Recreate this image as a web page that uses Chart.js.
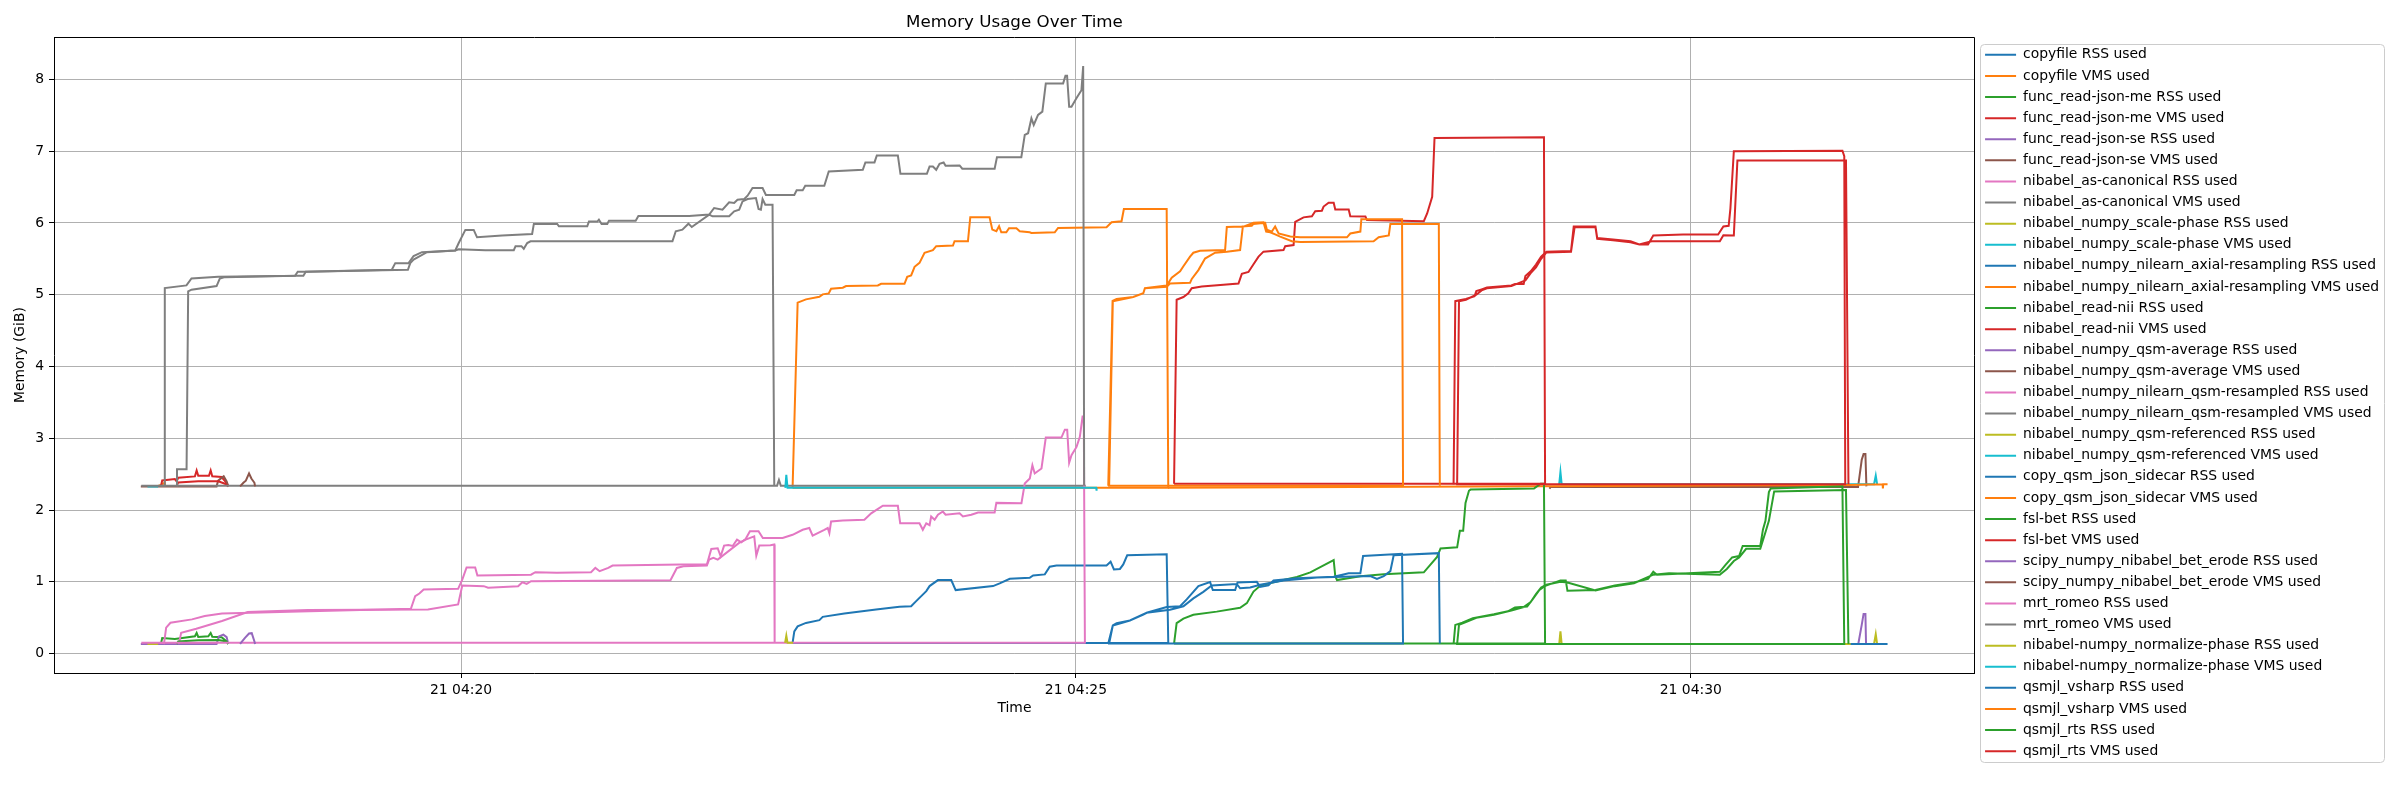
<!DOCTYPE html>
<html>
<head>
<meta charset="utf-8">
<title>Memory Usage Over Time</title>
<script src="https://cdn.jsdelivr.net/npm/chart.js@4.4.0/dist/chart.umd.min.js"></script>
<style>
  html, body { margin: 0; padding: 0; background: #fff; }
  canvas { display: block; }
</style>
</head>
<body>
<canvas id="memChart" width="2400" height="800"></canvas>
<script>
// x = minutes after 04:00 on the 21st, y = GiB

var xTickValues = [20, 25, 30];
var yTickValues = [0, 1, 2, 3, 4, 5, 6, 7, 8];

var seriesLabels = [
    "copyfile RSS used", "copyfile VMS used",
    "func_read-json-me RSS used", "func_read-json-me VMS used",
    "func_read-json-se RSS used", "func_read-json-se VMS used",
    "nibabel_as-canonical RSS used", "nibabel_as-canonical VMS used",
    "nibabel_numpy_scale-phase RSS used", "nibabel_numpy_scale-phase VMS used",
    "nibabel_numpy_nilearn_axial-resampling RSS used", "nibabel_numpy_nilearn_axial-resampling VMS used",
    "nibabel_read-nii RSS used", "nibabel_read-nii VMS used",
    "nibabel_numpy_qsm-average RSS used", "nibabel_numpy_qsm-average VMS used",
    "nibabel_numpy_nilearn_qsm-resampled RSS used", "nibabel_numpy_nilearn_qsm-resampled VMS used",
    "nibabel_numpy_qsm-referenced RSS used", "nibabel_numpy_qsm-referenced VMS used",
    "copy_qsm_json_sidecar RSS used", "copy_qsm_json_sidecar VMS used",
    "fsl-bet RSS used", "fsl-bet VMS used",
    "scipy_numpy_nibabel_bet_erode RSS used", "scipy_numpy_nibabel_bet_erode VMS used",
    "mrt_romeo RSS used", "mrt_romeo VMS used",
    "nibabel-numpy_normalize-phase RSS used", "nibabel-numpy_normalize-phase VMS used",
    "qsmjl_vsharp RSS used", "qsmjl_vsharp VMS used",
    "qsmjl_rts RSS used", "qsmjl_rts VMS used"
];

var copyfileRss = [[17.525,0.135],[17.555,0.135]];
var copyfileVms = [[17.525,2.33],[17.56,2.35],[17.59,2.38],[17.592,2.33]];

var readJsonMeRss = [[17.559,0.135],[17.570,0.218],[17.673,0.204],[17.836,0.241],[17.850,0.288],[17.863,0.232],
    [17.945,0.241],[17.964,0.288],[17.977,0.236],[18.053,0.227],[18.094,0.17],[18.107,0.135]];
var readJsonMeVms = [[17.559,2.33],[17.570,2.413],[17.673,2.432],[17.687,2.40],[17.70,2.45],[17.836,2.469],[17.850,2.552],
    [17.863,2.478],[17.950,2.478],[17.964,2.552],[17.977,2.47],[18.053,2.46],[18.094,2.376],[18.107,2.33]];

var readJsonSeRss = [[17.396,0.135],[17.442,0.135],[18.012,0.135],[18.031,0.24],[18.067,0.264],[18.094,0.23],[18.107,0.135]];
var readJsonSeVms = [[17.396,2.33],[17.442,2.33],[18.012,2.33],[18.025,2.41],[18.07,2.47],[18.094,2.40],[18.107,2.33]];

var asCanonicalRss = [[17.69,0.15],[17.707,0.15],[17.724,0.29],[17.847,0.347],[18.056,0.454],[18.265,0.579],[18.754,0.606],
    [19.731,0.616],[19.976,0.685],[20.010,0.949],[20.185,0.94],[20.220,0.917],[20.464,0.94],[20.499,0.995],[20.534,0.972],
    [20.569,1.009],[21.703,1.023],[21.755,1.194],[21.808,1.218],[21.999,1.227],[22.017,1.31],[22.052,1.333],[22.087,1.31],
    [22.261,1.542],[22.314,1.588],[22.384,1.634],[22.401,1.366],[22.425,1.505],[22.516,1.51],[22.547,1.52],[22.550,0.15]];
var asCanonicalVms = [[17.555,2.34],[17.585,2.34],[17.591,5.093],[17.767,5.13],[17.808,5.227],[18.025,5.25],[18.650,5.264],
    [18.672,5.32],[18.731,5.32],[19.437,5.347],[19.465,5.44],[19.573,5.44],[19.614,5.54],[19.682,5.593],[19.953,5.616],
    [19.981,5.634],[20.198,5.62],[20.429,5.62],[20.443,5.676],[20.491,5.676],[20.510,5.64],[20.538,5.72],[20.565,5.745],
    [21.719,5.745],[21.746,5.884],[21.800,5.907],[21.849,5.99],[21.876,5.944],[22.018,6.116],[22.045,6.093],[22.180,6.093],
    [22.221,6.162],[22.262,6.185],[22.289,6.30],[22.330,6.333],[22.398,6.347],[22.419,6.194],[22.438,6.185],[22.452,6.333],
    [22.474,6.255],[22.533,6.255],[22.547,2.34]];

var scalePhaseRss = [[17.45,0.135],[17.537,0.135]];
var scalePhaseVms = [[17.45,2.33],[17.537,2.33]];

var axialResamplingRss = [[22.696,0.149],[22.710,0.31],[22.737,0.38],[22.805,0.428],[22.914,0.466],[22.941,0.512],[23.117,0.559],
    [23.375,0.615],[23.565,0.652],[23.660,0.661],[23.701,0.731],[23.783,0.871],[23.810,0.941],[23.878,1.024],[23.986,1.024],
    [24.022,0.885],[24.326,0.941],[24.380,0.978],[24.462,1.043],[24.624,1.057],[24.652,1.09],[24.747,1.104],[24.787,1.211],
    [24.842,1.229],[25.249,1.229],[25.282,1.281],[25.309,1.173],[25.358,1.18],[25.385,1.243],[25.417,1.369],[25.738,1.383],
    [25.751,0.149],[22.696,0.149]];
var axialResamplingVms = [[22.696,2.31],[22.737,4.889],[22.805,4.935],[22.914,4.972],[22.941,5.005],[22.990,5.019],[23.009,5.083],
    [23.104,5.097],[23.131,5.12],[23.389,5.13],[23.416,5.153],[23.606,5.153],[23.628,5.25],[23.660,5.269],[23.688,5.389],
    [23.728,5.444],[23.769,5.583],[23.837,5.62],[23.864,5.676],[24.000,5.685],[24.013,5.745],[24.122,5.745],[24.141,6.079],
    [24.298,6.079],[24.320,5.907],[24.353,5.884],[24.375,5.954],[24.393,5.87],[24.434,5.87],[24.456,5.926],[24.516,5.926],
    [24.543,5.884],[24.624,5.87],[24.638,5.861],[24.828,5.87],[24.855,5.931],[25.249,5.94],[25.290,6.009],[25.371,6.023],
    [25.390,6.194],[25.738,6.194],[25.751,2.31],[22.696,2.31]];

var readNiiRss = [[17.687,0.135],[17.700,0.17],[17.863,0.186],[18.026,0.19],[18.094,0.17],[18.107,0.135]];
var readNiiVms = [[17.687,2.33],[17.700,2.385],[17.863,2.40],[18.026,2.40],[18.080,2.367],[18.107,2.33]];

var qsmAverageRss = [[31.362,0.134],[31.39,0.40],[31.405,0.553],[31.42,0.553],[31.425,0.134]];
var qsmAverageVms = [[28.85,2.30],[28.86,2.32],[31.36,2.32],[31.39,2.70],[31.405,2.78],[31.42,2.78],[31.428,2.33]];

var qsmResampledRss = [[17.40,0.15],[25.08,0.15]];
var qsmResampledVms = [[17.40,2.34],[22.57,2.34],[22.585,2.42],[22.60,2.34],[25.08,2.34]];

var qsmReferencedRss = [[28.93,0.134],[28.94,0.31],[28.95,0.134],[31.49,0.134],[31.504,0.27],[31.515,0.134]];
var qsmReferencedVms = [[28.93,2.36],[28.94,2.53],[28.95,2.36],[31.49,2.36],[31.504,2.48],[31.515,2.36]];

var sidecarRss = [[31.30,0.134],[31.60,0.134]];
var sidecarVms = [[25.75,2.31],[31.29,2.35],[31.56,2.36],[31.562,2.30],[31.565,2.36],[31.60,2.36]];

var fslBetRss = [[25.798,0.14],[25.819,0.424],[25.874,0.488],[25.955,0.542],[26.145,0.585],[26.335,0.638],[26.39,0.703],
    [26.444,0.864],[26.498,0.944],[26.58,0.982],[26.688,1.025],[26.797,1.068],[26.906,1.132],[27.014,1.229],[27.096,1.304],
    [27.109,1.078],[27.123,1.025],[27.313,1.078],[27.503,1.105],[27.829,1.132],[27.883,1.239],[27.937,1.347],[27.965,1.465],
    [28.100,1.481],[28.122,1.711],[28.149,1.711],[28.168,2.098],[28.196,2.269],[28.209,2.285],[28.725,2.30],[28.779,2.366],
    [28.806,2.366],[28.815,0.14],[25.798,0.14]];
var fslBetVms = [[25.798,2.366],[25.819,4.93],[25.874,4.968],[25.914,5.02],[25.942,5.09],[26.023,5.113],[26.200,5.14],
    [26.322,5.156],[26.349,5.29],[26.403,5.317],[26.444,5.424],[26.485,5.531],[26.525,5.60],[26.688,5.622],[26.702,5.676],
    [26.770,5.692],[26.783,6.014],[26.851,6.078],[26.919,6.094],[26.946,6.164],[27.0,6.17],[27.014,6.229],[27.055,6.282],
    [27.096,6.282],[27.109,6.186],[27.218,6.186],[27.231,6.094],[27.354,6.09],[27.367,6.04],[27.829,6.025],[27.856,6.132],
    [27.897,6.363],[27.916,7.184],[28.806,7.194],[28.815,2.366],[25.798,2.366]];

var betErodeRss = [[18.203,0.135],[18.243,0.22],[18.276,0.28],[18.298,0.285],[18.32,0.17],[18.325,0.135]];
var betErodeVms = [[18.203,2.33],[18.23,2.38],[18.25,2.41],[18.276,2.51],[18.295,2.44],[18.32,2.38],[18.325,2.33]];

var romeoRss = [[17.55,0.15],[17.585,0.144],[17.602,0.361],[17.637,0.43],[17.812,0.477],[17.916,0.523],[18.056,0.56],
    [18.684,0.588],[19.592,0.625],[19.627,0.80],[19.661,0.838],[19.696,0.894],[19.976,0.903],[20.010,1.03],[20.045,1.20],
    [20.115,1.20],[20.133,1.088],[20.569,1.10],[20.604,1.134],[20.778,1.125],[21.057,1.134],[21.092,1.194],[21.127,1.148],
    [21.197,1.194],[21.232,1.227],[21.790,1.24],[21.999,1.24],[22.035,1.458],[22.087,1.468],[22.111,1.356],[22.139,1.505],
    [22.174,1.514],[22.209,1.50],[22.244,1.588],[22.279,1.55],[22.314,1.597],[22.349,1.704],[22.419,1.704],[22.454,1.611],
    [22.479,1.61],[22.615,1.61],[22.696,1.655],[22.778,1.725],[22.832,1.75],[22.859,1.645],[22.954,1.725],[22.982,1.75],
    [22.995,1.68],[23.009,1.84],[23.104,1.855],[23.280,1.865],[23.335,1.955],[23.375,2.00],[23.430,2.06],[23.552,2.06],
    [23.571,1.815],[23.728,1.815],[23.755,1.725],[23.783,1.815],[23.810,1.79],[23.823,1.91],[23.851,1.865],[23.878,1.935],
    [23.918,1.98],[23.940,1.935],[24.054,1.955],[24.081,1.91],[24.149,1.935],[24.204,1.965],[24.339,1.965],[24.353,2.10],
    [24.557,2.095],[24.584,2.37],[24.625,2.44],[24.646,2.625],[24.665,2.51],[24.720,2.58],[24.755,3.01],[24.882,3.01],
    [24.910,3.12],[24.929,3.12],[24.945,2.66],[24.964,2.765],[25.005,2.88],[25.032,3.02],[25.054,3.305],[25.064,3.305],
    [25.073,0.15]];
var romeoVms = [[17.686,2.34],[17.69,2.57],[17.768,2.57],[17.781,5.046],[17.808,5.07],[18.012,5.12],[18.039,5.227],
    [18.080,5.245],[18.650,5.264],[18.718,5.264],[18.737,5.32],[19.568,5.347],[19.587,5.44],[19.614,5.49],[19.723,5.593],
    [19.953,5.616],[19.981,5.72],[20.035,5.903],[20.103,5.903],[20.130,5.80],[20.334,5.824],[20.578,5.847],[20.592,5.986],
    [20.782,5.986],[20.796,5.954],[21.026,5.954],[21.040,6.019],[21.108,6.019],[21.121,6.046],[21.143,5.986],[21.189,5.986],
    [21.203,6.032],[21.420,6.032],[21.442,6.097],[21.855,6.097],[22.018,6.116],[22.058,6.208],[22.126,6.185],[22.180,6.287],
    [22.221,6.278],[22.248,6.324],[22.303,6.333],[22.330,6.38],[22.370,6.486],[22.452,6.486],[22.479,6.389],[22.710,6.389],
    [22.729,6.454],[22.778,6.454],[22.799,6.519],[22.954,6.519],[22.990,6.718],[23.267,6.741],[23.288,6.843],[23.362,6.843],
    [23.381,6.94],[23.552,6.94],[23.573,6.685],[23.788,6.685],[23.810,6.787],[23.837,6.787],[23.864,6.741],[23.891,6.824],
    [23.924,6.843],[23.940,6.796],[24.054,6.801],[24.076,6.755],[24.339,6.755],[24.358,6.917],[24.556,6.917],[24.584,7.227],
    [24.611,7.25],[24.638,7.458],[24.657,7.366],[24.692,7.505],[24.727,7.551],[24.755,7.944],[24.896,7.944],[24.915,8.05],
    [24.928,8.05],[24.945,7.62],[24.964,7.62],[25.004,7.736],[25.045,7.85],[25.059,8.185],[25.067,2.34]];

var normalizePhaseRss = [[22.635,0.15],[22.645,0.25],[22.655,0.15],[22.70,0.15]];
var normalizePhaseVms = [[22.637,2.31],[22.645,2.49],[22.655,2.31],[25.165,2.31],[25.168,2.27]];

var vsharpRss = [[25.263,0.14],[25.30,0.392],[25.331,0.424],[25.439,0.461],[25.548,0.542],[25.575,0.569],[25.738,0.649],
    [25.847,0.66],[25.901,0.756],[25.996,0.94],[26.091,0.998],[26.113,0.885],[26.295,0.885],[26.314,0.99],[26.471,1.0],
    [26.498,0.93],[26.566,0.95],[26.607,1.02],[26.797,1.05],[27.096,1.07],[27.218,1.12],[27.313,1.12],[27.335,1.36],
    [27.652,1.39],[27.660,0.14],[25.27,0.14],
    [25.30,0.39],[25.439,0.461],[25.575,0.569],[25.765,0.61],[25.874,0.66],[25.955,0.77],[26.036,0.86],[26.104,0.95],
    [26.308,0.97],[26.335,0.91],[26.417,0.92],[26.498,0.96],[26.688,1.02],[26.960,1.06],[27.394,1.08],[27.448,1.04],
    [27.503,1.08],[27.557,1.15],[27.584,1.37],[27.951,1.40],[27.959,0.14]];
var vsharpVms = [[25.263,2.34],[25.298,4.914],[25.331,4.94],[25.466,4.968],[25.548,5.02],[25.561,5.09],[25.738,5.129],
    [25.779,5.236],[25.847,5.327],[25.874,5.397],[25.928,5.531],[25.955,5.585],[26.009,5.612],[26.213,5.622],[26.227,5.944],
    [26.349,5.95],[26.430,5.96],[26.444,5.987],[26.539,6.003],[26.553,5.907],[26.593,5.88],[26.620,5.95],[26.648,5.853],
    [26.743,5.81],[26.824,5.80],[27.204,5.80],[27.231,5.853],[27.313,5.88],[27.321,6.052],[27.652,6.052],[27.660,2.34],
    [25.27,2.34],
    [25.30,4.91],[25.466,4.968],[25.548,5.02],[25.561,5.09],[25.738,5.11],[25.765,5.156],[25.928,5.166],[25.942,5.22],
    [25.996,5.343],[26.050,5.504],[26.132,5.585],[26.227,5.60],[26.335,5.622],[26.357,5.944],[26.444,6.003],[26.525,6.01],
    [26.547,5.88],[26.580,5.87],[26.620,5.84],[26.661,5.81],[26.756,5.746],[26.824,5.735],[27.421,5.746],[27.462,5.80],
    [27.544,5.826],[27.557,5.987],[27.951,5.987],[27.959,2.34]];

var rtsRss = [[28.071,0.134],[28.085,0.40],[28.142,0.43],[28.228,0.494],[28.399,0.548],[28.513,0.59],[28.570,0.644],
    [28.669,0.655],[28.712,0.752],[28.769,0.886],[28.812,0.94],[28.94,1.02],[28.983,1.02],[28.997,0.875],[29.225,0.886],
    [29.382,0.95],[29.538,0.99],[29.652,1.04],[29.695,1.14],[29.724,1.10],[30.236,1.14],[30.279,1.23],[30.336,1.34],
    [30.393,1.36],[30.422,1.50],[30.565,1.50],[30.587,1.73],[30.607,1.85],[30.635,2.25],[30.65,2.30],[31.233,2.33],
    [31.248,0.134],[28.10,0.134],
    [28.115,0.40],[28.171,0.44],[28.256,0.50],[28.399,0.54],[28.541,0.60],[28.641,0.65],[28.698,0.72],[28.741,0.83],
    [28.783,0.92],[28.826,0.96],[28.94,1.00],[28.997,0.99],[29.225,0.88],[29.382,0.94],[29.538,0.98],[29.695,1.10],
    [29.823,1.12],[30.236,1.10],[30.293,1.18],[30.35,1.29],[30.393,1.34],[30.45,1.46],[30.565,1.46],[30.607,1.69],
    [30.635,1.85],[30.678,2.26],[31.262,2.28],[31.282,0.134]];
var rtsVms = [[28.071,2.36],[28.085,4.91],[28.171,4.94],[28.242,4.98],[28.256,5.05],[28.299,5.075],[28.342,5.10],
    [28.541,5.128],[28.570,5.15],[28.641,5.15],[28.655,5.26],[28.698,5.326],[28.741,5.42],[28.783,5.53],[28.826,5.60],
    [29.026,5.61],[29.048,5.95],[29.225,5.95],[29.239,5.79],[29.367,5.77],[29.510,5.745],[29.581,5.70],[29.652,5.70],
    [29.695,5.826],[29.937,5.84],[30.222,5.84],[30.265,5.95],[30.308,5.96],[30.322,6.2],[30.35,7.0],[31.233,7.007],
    [31.248,6.93],[31.256,2.36],[28.10,2.36],
    [28.115,4.91],[28.171,4.93],[28.256,5.0],[28.299,5.06],[28.342,5.09],[28.541,5.12],[28.570,5.14],[28.655,5.20],
    [28.698,5.30],[28.741,5.38],[28.783,5.50],[28.826,5.59],[29.026,5.60],[29.055,5.94],[29.225,5.94],[29.239,5.78],
    [29.367,5.76],[29.510,5.73],[29.581,5.70],[29.681,5.745],[30.236,5.745],[30.265,5.83],[30.350,5.825],[30.379,6.87],
    [31.262,6.87],[31.282,2.36]];

// same order as seriesLabels
var seriesValues = [
    copyfileRss, copyfileVms, readJsonMeRss, readJsonMeVms, readJsonSeRss, readJsonSeVms,
    asCanonicalRss, asCanonicalVms, scalePhaseRss, scalePhaseVms, axialResamplingRss, axialResamplingVms,
    readNiiRss, readNiiVms, qsmAverageRss, qsmAverageVms, qsmResampledRss, qsmResampledVms,
    qsmReferencedRss, qsmReferencedVms, sidecarRss, sidecarVms, fslBetRss, fslBetVms,
    betErodeRss, betErodeVms, romeoRss, romeoVms, normalizePhaseRss, normalizePhaseVms,
    vsharpRss, vsharpVms, rtsRss, rtsVms
];

// matplotlib tab10 cycle
var palette = ["#1f77b4", "#ff7f0e", "#2ca02c", "#d62728", "#9467bd",
               "#8c564b", "#e377c2", "#7f7f7f", "#bcbd22", "#17becf"];

!function() {
    "use strict";

    var MemChart = function() {};

    // top/right spines and the legend frame
    MemChart.prototype.framePlugin = {
        id: 'frame',
        afterDatasetsDraw: function(chart) {
            var a = chart.chartArea, ctx = chart.ctx;
            var l = Math.round(a.left) + 0.5, t = Math.round(a.top) + 0.5;
            var r = Math.round(a.right) - 0.5, b = Math.round(a.bottom) + 0.5;
            ctx.save();
            ctx.strokeStyle = '#000';
            ctx.lineWidth = 1;
            ctx.beginPath();
            ctx.moveTo(l, t);
            ctx.lineTo(r, t);
            ctx.lineTo(r, b);
            ctx.stroke();
            ctx.restore();
        },
        afterDraw: function(chart) {
            var hits = chart.legend && chart.legend.legendHitBoxes;
            if (!hits || !hits.length) return;
            var ctx = chart.ctx;
            var maxRight = 0;
            hits.forEach(function(h) { maxRight = Math.max(maxRight, h.left + h.width); });
            var x0 = Math.round(hits[0].left - 5) + 0.5;
            var y0 = Math.round(hits[0].top - 4) + 0.5;
            var x1 = Math.round(maxRight + 5) + 0.5;
            var last = hits[hits.length - 1];
            var y1 = Math.round(last.top + last.height + 4) + 0.5;
            ctx.save();
            ctx.strokeStyle = '#cccccc';
            ctx.lineWidth = 1;
            ctx.beginPath();
            if (ctx.roundRect) ctx.roundRect(x0, y0, x1 - x0, y1 - y0, 4);
            else ctx.rect(x0, y0, x1 - x0, y1 - y0);
            ctx.stroke();
            ctx.restore();
        }
    };

    MemChart.prototype.init = function() {
        var font = { family: 'DejaVu Sans', size: 13.9 };
        var n = seriesLabels.length;

        var datasets = seriesLabels.map(function(label, i) {
            return {
                label: label,
                data: seriesValues[i].map(function(p) { return { x: p[0], y: p[1] }; }),
                borderColor: palette[i % palette.length],
                backgroundColor: palette[i % palette.length],
                borderWidth: 2,
                pointRadius: 0,
                fill: false,
                tension: 0,
                // later series on top, like matplotlib
                order: n - i
            };
        });

        Chart.defaults.font.family = 'DejaVu Sans';
        Chart.defaults.color = '#000';

        var ctx = document.getElementById('memChart').getContext('2d');
        new Chart(ctx, {
            type: 'line',
            data: { datasets: datasets },
            plugins: [this.framePlugin],
            options: {
                responsive: false,
                animation: false,
                devicePixelRatio: 1,
                events: [],
                layout: { padding: { top: 6, right: 11, bottom: 0, left: 0 } },
                plugins: {
                    tooltip: { enabled: false },
                    title: {
                        display: true,
                        text: 'Memory Usage Over Time',
                        fullSize: false,
                        color: '#000',
                        font: { family: 'DejaVu Sans', size: 16.7, weight: 'normal' },
                        padding: { top: 7, bottom: 4 }
                    },
                    legend: {
                        position: 'right',
                        align: 'center',
                        // let the legend be as wide as its longest label
                        maxWidth: 480,
                        labels: {
                            font: font,
                            color: '#000',
                            boxWidth: 31,
                            boxHeight: 2,
                            padding: 7.2,
                            generateLabels: function(chart) {
                                return chart.data.datasets.map(function(ds, i) {
                                    return {
                                        text: ds.label,
                                        fillStyle: ds.borderColor,
                                        strokeStyle: ds.borderColor,
                                        lineWidth: 0,
                                        hidden: false,
                                        datasetIndex: i
                                    };
                                });
                            }
                        }
                    }
                },
                scales: {
                    x: {
                        type: 'linear',
                        min: 16.69,
                        max: 32.31,
                        afterBuildTicks: function(s) { s.ticks = xTickValues.map(function(v) { return { value: v }; }); },
                        afterFit: function(s) { s.height = 127; },
                        grid: { color: '#b0b0b0', lineWidth: 1, tickLength: 5, tickColor: '#000' },
                        border: { display: true, color: '#000', width: 1 },
                        ticks: {
                            font: font, color: '#000', padding: 4, maxRotation: 0, autoSkip: false,
                            callback: function(v) { return '21 04:' + v; }
                        },
                        title: { display: true, text: 'Time', font: font, color: '#000', padding: { top: 0, bottom: 83 } }
                    },
                    y: {
                        type: 'linear',
                        min: -0.27,
                        max: 8.59,
                        afterBuildTicks: function(s) { s.ticks = yTickValues.map(function(v) { return { value: v }; }); },
                        afterFit: function(s) { s.width = 54; },
                        grid: { color: '#b0b0b0', lineWidth: 1, tickLength: 5, tickColor: '#000' },
                        border: { display: true, color: '#000', width: 1 },
                        ticks: { font: font, color: '#000', padding: 5 },
                        title: { display: true, text: 'Memory (GiB)', font: font, color: '#000', padding: { top: 12.5, bottom: 0 } }
                    },
                    // keeps a small gap between the plot and the legend
                    gap: {
                        type: 'linear',
                        position: 'right',
                        display: true,
                        grid: { display: false },
                        ticks: { display: false },
                        border: { display: false },
                        afterFit: function(s) { s.width = 3; }
                    }
                }
            }
        });
    };

    //init
    new MemChart().init();
}();
</script>
</body>
</html>
